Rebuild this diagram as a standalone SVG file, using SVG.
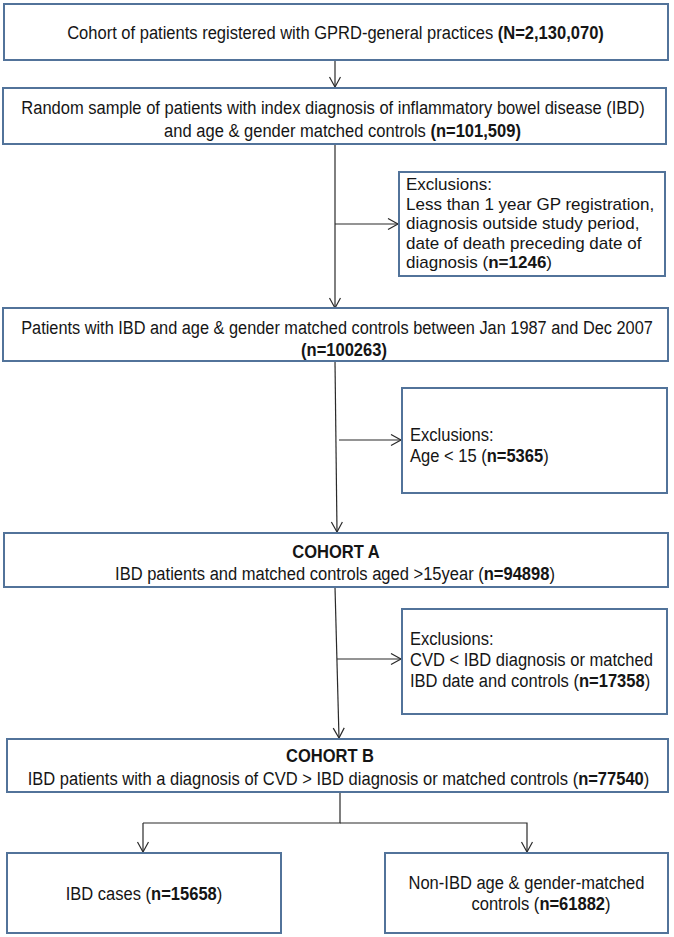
<svg xmlns="http://www.w3.org/2000/svg" width="674" height="937" viewBox="0 0 674 937">
<style>
.box{fill:#fff;stroke:#52739a;stroke-width:2}
.t{font-family:"Liberation Sans",Arial,sans-serif;font-size:19px;fill:#151515}
.c{text-anchor:middle}
.w{font-family:"Liberation Sans",Arial,sans-serif;font-size:17px;fill:#151515}
.b{font-weight:bold}
.ln{fill:none;stroke:#2a2a2a;stroke-width:1.2}
</style>
<defs>
<marker id="ah" markerWidth="14" markerHeight="14" refX="11" refY="6" orient="auto" markerUnits="userSpaceOnUse">
<path d="M1,0.5 L11,6 L1,11.5" fill="none" stroke="#2a2a2a" stroke-width="1.2"/>
</marker>
</defs>
<g id="connectors">
<line class="ln" x1="335" y1="60" x2="335" y2="87" marker-end="url(#ah)"/>
<line class="ln" x1="335" y1="144" x2="335" y2="308" marker-end="url(#ah)"/>
<line class="ln" x1="335" y1="224" x2="398" y2="224" marker-end="url(#ah)"/>
<line class="ln" x1="335" y1="361" x2="337" y2="532" marker-end="url(#ah)"/>
<line class="ln" x1="339" y1="440" x2="401" y2="440" marker-end="url(#ah)"/>
<line class="ln" x1="335" y1="587" x2="339" y2="738" marker-end="url(#ah)"/>
<line class="ln" x1="337" y1="659" x2="401" y2="659" marker-end="url(#ah)"/>
<polyline class="ln" points="340,792 340,823 143,823"/>
<line class="ln" x1="143" y1="823" x2="143" y2="852" marker-end="url(#ah)"/>
<polyline class="ln" points="340,823 527,823 527,852" marker-end="url(#ah)"/>
</g>
<g id="n1">
<rect class="box" x="4" y="4" width="664" height="56"/>
<text class="t c" transform="translate(335.5,39) scale(0.87,1)">Cohort of patients registered with GPRD-general practices  <tspan class="b">(N=2,130,070)</tspan></text>
</g>
<g id="n2">
<rect class="box" x="3" y="88" width="663" height="56"/>
<text class="t c" transform="translate(333,114) scale(0.87,1)">Random sample of patients with index diagnosis of inflammatory bowel disease (IBD)</text>
<text class="t c" transform="translate(342.5,137) scale(0.87,1)">and age &amp; gender matched controls <tspan class="b">(n=101,509)</tspan></text>
</g>
<g id="ex1">
<rect class="box" x="399" y="172" width="266" height="104"/>
<text class="w" x="406" y="190">Exclusions:</text>
<text class="w" x="406" y="210">Less than 1 year GP registration,</text>
<text class="w" x="406" y="229">diagnosis outside study period,</text>
<text class="w" x="406" y="249">date of death preceding date of</text>
<text class="w" x="406" y="268">diagnosis (<tspan class="b">n=1246</tspan>)</text>
</g>
<g id="n3">
<rect class="box" x="3" y="308" width="665" height="53"/>
<text class="t c" transform="translate(337,334) scale(0.86,1)">Patients with IBD and age &amp; gender matched controls between Jan 1987 and Dec 2007</text>
<text class="t c b" transform="translate(344,356) scale(0.87,1)">(n=100263)</text>
</g>
<g id="ex2">
<rect class="box" x="402" y="388" width="265" height="105"/>
<text class="t" transform="translate(410,441) scale(0.87,1)">Exclusions:</text>
<text class="t" transform="translate(410,462) scale(0.87,1)">Age &lt; 15 (<tspan class="b">n=5365</tspan>)</text>
</g>
<g id="n4">
<rect class="box" x="4" y="533" width="664" height="54"/>
<text class="t c b" transform="translate(336,558) scale(0.87,1)">COHORT A</text>
<text class="t c" transform="translate(335,580) scale(0.87,1)">IBD patients and matched controls aged &gt;15year (<tspan class="b">n=94898</tspan>)</text>
</g>
<g id="ex3">
<rect class="box" x="402" y="609" width="265" height="105"/>
<text class="t" transform="translate(410,645) scale(0.87,1)">Exclusions:</text>
<text class="t" transform="translate(410,666) scale(0.87,1)">CVD &lt; IBD diagnosis or matched</text>
<text class="t" transform="translate(410,687) scale(0.87,1)">IBD date and controls (<tspan class="b">n=17358</tspan>)</text>
</g>
<g id="n5">
<rect class="box" x="7" y="739" width="661" height="53"/>
<text class="t c b" transform="translate(330,762) scale(0.87,1)">COHORT B</text>
<text class="t c" transform="translate(338.5,785) scale(0.87,1)">IBD patients with a diagnosis of CVD &gt; IBD diagnosis or matched controls (<tspan class="b">n=77540</tspan>)</text>
</g>
<g id="n6">
<rect class="box" x="7" y="853" width="274" height="80"/>
<text class="t c" transform="translate(144,900) scale(0.87,1)">IBD cases (<tspan class="b">n=15658</tspan>)</text>
</g>
<g id="n7">
<rect class="box" x="385" y="853" width="283" height="80"/>
<text class="t c" transform="translate(526.5,889) scale(0.87,1)">Non-IBD age &amp; gender-matched</text>
<text class="t c" transform="translate(541,910) scale(0.87,1)">controls (<tspan class="b">n=61882</tspan>)</text>
</g>
</svg>
